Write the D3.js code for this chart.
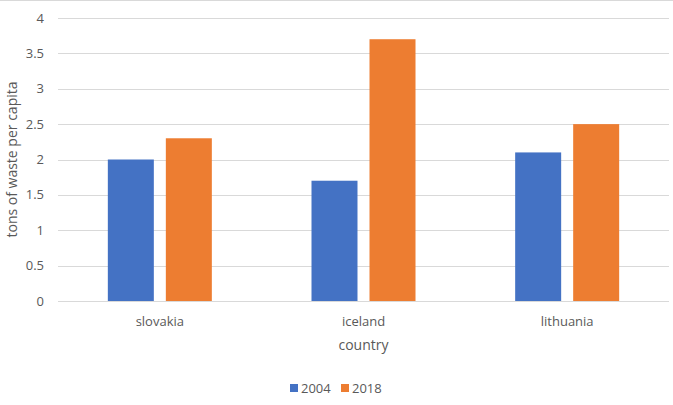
<!DOCTYPE html>
<html>
<head>
<meta charset="utf-8">
<script src="https://cdn.jsdelivr.net/npm/d3@7"></script>
<style>
  body { margin: 0; background: #fff; }
  text { font-family: "Open Sans", "Liberation Sans", sans-serif; fill: #595959; }
</style>
</head>
<body>
<div id="chart"></div>
<script>
const countries = ['slovakia', 'iceland', 'lithuania'];
const seriesNames = ['2004', '2018'];
const values2004 = [2.0, 1.7, 2.1];
const values2018 = [2.3, 3.7, 2.5];
const yTicks = [0, 0.5, 1, 1.5, 2, 2.5, 3, 3.5, 4];
const colors = ['#4472c4', '#ed7d31'];

const width = 673, height = 405;
const margin = { top: 18, right: 4, bottom: 104, left: 58 };
const innerW = width - margin.left - margin.right;
const innerH = height - margin.top - margin.bottom;

const svg = d3.select('#chart').append('svg')
  .attr('width', width)
  .attr('height', height);

// chart border (only top shows)
svg.append('line')
  .attr('x1', 0).attr('x2', width)
  .attr('y1', 0.5).attr('y2', 0.5)
  .attr('stroke', '#d9d9d9');

const g = svg.append('g').attr('transform', `translate(${margin.left},${margin.top})`);

const x0 = d3.scaleBand().domain(countries).range([0, innerW]);
const groupW = 104;
const x1 = d3.scaleBand().domain(seriesNames)
  .range([(x0.bandwidth() - groupW) / 2, (x0.bandwidth() + groupW) / 2])
  .paddingInner(0.207);
const y = d3.scaleLinear().domain([0, 4]).range([innerH, 0]);

// gridlines
g.append('g')
  .selectAll('line')
  .data(yTicks)
  .join('line')
  .attr('x1', 0).attr('x2', innerW)
  .attr('y1', d => Math.round(y(d)) + 0.5)
  .attr('y2', d => Math.round(y(d)) + 0.5)
  .attr('stroke', '#d9d9d9');

// y tick labels
g.append('g')
  .selectAll('text')
  .data(yTicks)
  .join('text')
  .attr('x', -14)
  .attr('y', d => y(d))
  .attr('dy', '0.35em')
  .attr('text-anchor', 'end')
  .style('font-size', '13px')
  .text(d => d);

const rows = countries.map((c, i) => ({ country: c, vals: [values2004[i], values2018[i]] }));

// bars
g.append('g')
  .selectAll('g')
  .data(rows)
  .join('g')
  .attr('transform', d => `translate(${x0(d.country)},0)`)
  .selectAll('rect')
  .data(d => d.vals.map((v, i) => ({ key: seriesNames[i], v, i })))
  .join('rect')
  .attr('x', d => x1(d.key))
  .attr('width', x1.bandwidth())
  .attr('y', d => y(d.v))
  .attr('height', d => y(0) - y(d.v))
  .attr('fill', d => colors[d.i]);

// category labels
g.append('g')
  .selectAll('text')
  .data(countries)
  .join('text')
  .attr('x', d => x0(d) + x0.bandwidth() / 2)
  .attr('y', innerH + 25)
  .attr('text-anchor', 'middle')
  .style('font-size', '13px')
  .text(d => d);

// axis titles
svg.append('text')
  .attr('x', margin.left + innerW / 2)
  .attr('y', 350)
  .attr('text-anchor', 'middle')
  .style('font-size', '14px')
  .text('country');

svg.append('text')
  .attr('transform', `translate(17,${margin.top + innerH / 2}) rotate(-90)`)
  .attr('text-anchor', 'middle')
  .style('font-size', '14px')
  .text('tons of waste per capita');

// legend
const legend = svg.append('g').attr('transform', 'translate(290,388)');
const items = legend.selectAll('g')
  .data(seriesNames)
  .join('g')
  .attr('transform', (d, i) => `translate(${i * 51},0)`);
items.append('rect')
  .attr('x', 0).attr('y', -4)
  .attr('width', 8).attr('height', 8)
  .attr('fill', (d, i) => colors[i]);
items.append('text')
  .attr('x', 11)
  .attr('y', 0)
  .attr('dy', '0.35em')
  .style('font-size', '13px')
  .text(d => d);
</script>
</body>
</html>
